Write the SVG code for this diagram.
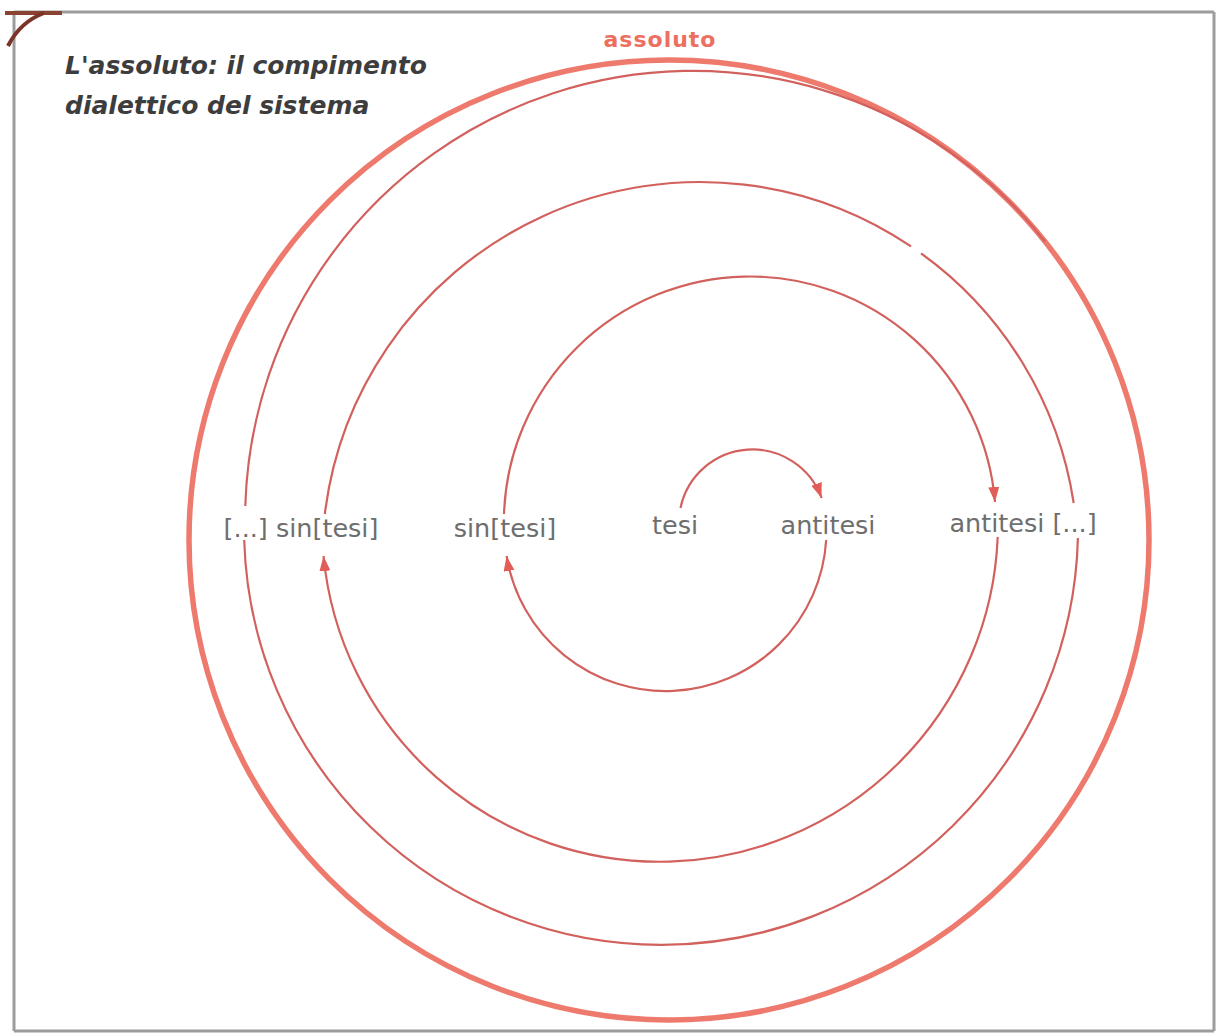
<svg xmlns="http://www.w3.org/2000/svg" width="1218" height="1034" viewBox="0 0 1218 1034">
  <defs>
    <style>
      .frame { stroke: #9c9c9c; stroke-width: 3; fill: none; }
      .thin { fill: none; stroke: #d2615d; stroke-width: 2.2; }
      .thick { fill: none; stroke: #ee7a6e; stroke-width: 5.5; }
      .lbl { font-family: "DejaVu Sans", "Liberation Sans", sans-serif; font-size: 25.5px; fill: #6e6e6e; text-anchor: middle; }
      .title { font-family: "DejaVu Sans", "Liberation Sans", sans-serif; font-size: 25px; font-weight: bold; font-style: italic; fill: #3d3d3d; }
      .abs { font-family: "DejaVu Sans", "Liberation Sans", sans-serif; font-size: 22px; font-weight: bold; fill: #ec6f5f; text-anchor: middle; letter-spacing: 1px; }
    </style>
    <marker id="arrow" markerUnits="userSpaceOnUse" markerWidth="16" markerHeight="12" refX="15" refY="5.5" orient="auto">
      <path d="M0,0 L15,5.5 L0,11 z" fill="#e25d57"/>
    </marker>
  </defs>

  <rect x="0" y="0" width="1218" height="1034" fill="#ffffff"/>

  <g id="frame">
    <line class="frame" x1="14" y1="12" x2="1214" y2="12"/>
    <line class="frame" x1="14" y1="12" x2="14" y2="1031"/>
    <line class="frame" x1="1214" y1="12" x2="1214" y2="1031"/>
    <line class="frame" x1="14" y1="1031" x2="1214" y2="1031"/>
    <line x1="5" y1="13" x2="62" y2="13" stroke="#8a4232" stroke-width="4"/>
    <path d="M 8 46 Q 20 22 44 13" fill="none" stroke="#7a3528" stroke-width="4"/>
  </g>

  <g id="title">
    <text class="title" x="65" y="74">L'assoluto: il compimento</text>
    <text class="title" x="65" y="114">dialettico del sistema</text>
  </g>

  <g id="assoluto">
    <circle class="thick" cx="669" cy="540" r="480"/>
    <text class="abs" x="660" y="47">assoluto</text>
  </g>

  <g id="connectors">
    <path id="u1" class="thin" d="M 680.5 508 A 73.5 73.5 0 0 1 821.6 498" marker-end="url(#arrow)"/>
    <path id="l1" class="thin" d="M 826.2 540 A 161 161 0 0 1 506.6 556" marker-end="url(#arrow)"/>
    <path id="u2" class="thin" d="M 504 514 A 246 246 0 0 1 995 502" marker-end="url(#arrow)"/>
    <path id="l2" class="thin" d="M 997.7 537 A 338 338 0 0 1 323.5 556" marker-end="url(#arrow)"/>
    <path id="u3a" class="thin" d="M 324.8 514 A 378 378 0 0 1 911 246.4"/>
    <path id="u3b" class="thin" d="M 921 253.3 A 378 378 0 0 1 1073.7 503"/>
    <path id="l3" class="thin" d="M 1077.9 538 A 417 417 0 0 1 244.2 540"/>
    <path id="u4" class="thin" d="M 245.3 506 A 448 448 0 0 1 1045 241.6"/>
  </g>

  <g id="node-sintesi-2">
    <text class="lbl" x="301" y="537">[...] sin[tesi]</text>
  </g>
  <g id="node-sintesi-1">
    <text class="lbl" x="505" y="537">sin[tesi]</text>
  </g>
  <g id="node-tesi">
    <text class="lbl" x="675" y="534">tesi</text>
  </g>
  <g id="node-antitesi-1">
    <text class="lbl" x="828" y="534">antitesi</text>
  </g>
  <g id="node-antitesi-2">
    <text class="lbl" x="1023" y="532">antitesi [...]</text>
  </g>
</svg>
